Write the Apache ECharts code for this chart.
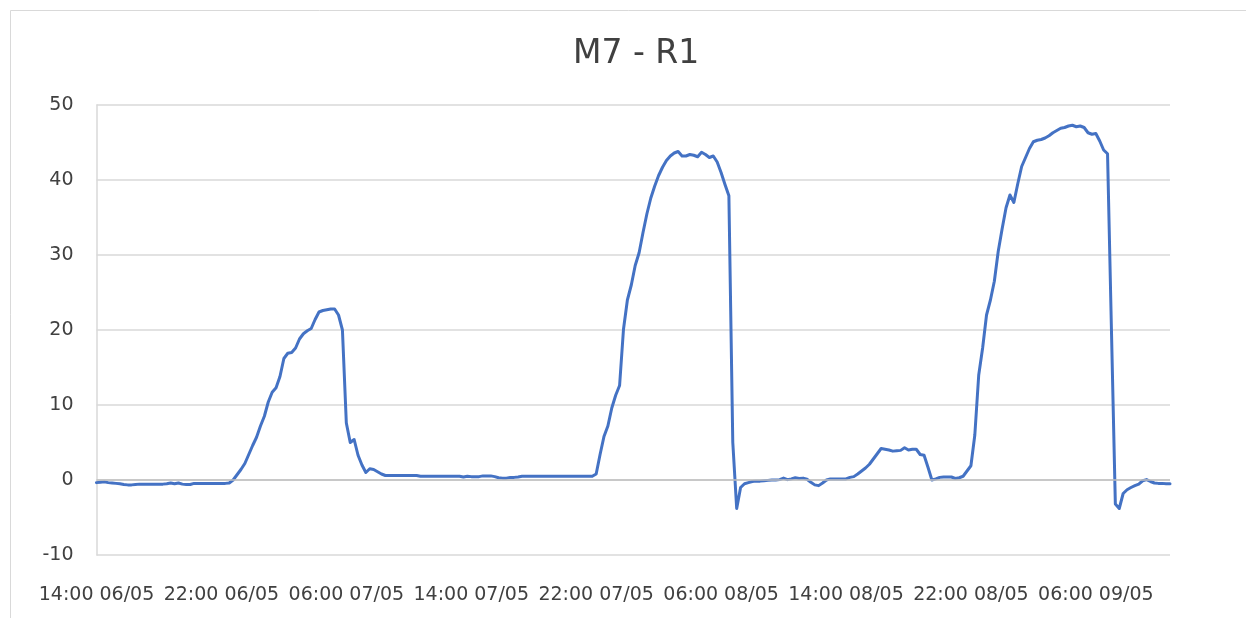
<!DOCTYPE html>
<html>
<head>
<meta charset="utf-8">
<script src="https://cdn.jsdelivr.net/npm/echarts@6/dist/echarts.min.js"></script>
<style>
  html, body { margin: 0; padding: 0; background: #fff; }
  #chart { width: 1246px; height: 618px; }
</style>
</head>
<body>
<div id="chart"></div>
<script>
// readings every 15 minutes, starting 14:00 06/05
const startDay = 6
const startMinutes = 14 * 60
const stepMinutes = 15

const values = [
  -0.35, -0.3, -0.25, -0.35, -0.4, -0.45, -0.5, -0.6, -0.65, -0.65,
  -0.6, -0.55, -0.55, -0.55, -0.55, -0.55, -0.55, -0.55, -0.5, -0.4,
  -0.5, -0.4, -0.55, -0.6, -0.6, -0.45, -0.45, -0.45, -0.45, -0.45,
  -0.45, -0.45, -0.45, -0.45,
  -0.4, 0.0, 0.7, 1.4, 2.2, 3.4, 4.6, 5.7, 7.2, 8.5,
  10.4, 11.7, 12.3, 13.8, 16.2, 16.9, 17.0, 17.6, 18.8, 19.5,
  19.9, 20.2, 21.4, 22.4, 22.6, 22.7, 22.8, 22.8, 22.0, 20.0,
  7.6, 5.0, 5.4, 3.3, 2.0, 1.0, 1.5, 1.4, 1.1, 0.8,
  0.6,
  0.6, 0.6, 0.6, 0.6, 0.6, 0.6, 0.6, 0.6,
  0.5, 0.5, 0.5, 0.5, 0.5, 0.5, 0.5, 0.5, 0.5, 0.5, 0.5,
  0.4, 0.5, 0.45, 0.45, 0.45, 0.55, 0.55, 0.55, 0.45, 0.3, 0.25, 0.25, 0.35, 0.35, 0.4,
  0.5, 0.5, 0.5, 0.5, 0.5, 0.5, 0.5, 0.5, 0.5, 0.5, 0.5, 0.5, 0.5, 0.5, 0.5, 0.5, 0.5, 0.5,
  0.5, 0.8, 3.4, 5.8, 7.2, 9.6, 11.3, 12.6, 20.1, 24.0,
  26.0, 28.6, 30.3, 33.0, 35.5, 37.6, 39.2, 40.6, 41.7, 42.6,
  43.2, 43.6, 43.8, 43.2, 43.2, 43.4, 43.3, 43.1, 43.7, 43.4,
  43.0, 43.2, 42.4, 41.0, 39.4, 37.9, 5.0, -3.8,
  -1.0, -0.5, -0.35, -0.2, -0.15, -0.15, -0.1, -0.05, 0, 0,
  0.05, 0.25, 0.05, 0.15, 0.3, 0.2, 0.25, 0.1, -0.3, -0.65,
  -0.75, -0.4, 0, 0.15, 0.15, 0.15, 0.15, 0.15, 0.35, 0.45,
  0.8, 1.2, 1.6, 2.1, 2.8, 3.5, 4.2, 4.1, 4.0, 3.85,
  3.9, 3.95, 4.3, 4.0, 4.1, 4.1, 3.4, 3.3, 1.7, 0.0,
  0.15, 0.35, 0.4, 0.4, 0.4, 0.2, 0.3, 0.5, 1.2, 1.9,
  6.0, 14.0, 17.6, 22.0, 24.0, 26.5, 30.5, 33.5, 36.3, 38.0,
  37.0, 39.5, 41.8, 43.0, 44.2, 45.1, 45.3, 45.4, 45.6, 45.9,
  46.3, 46.6, 46.9, 47.0, 47.2, 47.3, 47.1, 47.2, 47.0, 46.3,
  46.1, 46.2, 45.2, 44.0, 43.5, 20.0, -3.2, -3.8, -1.8, -1.3,
  -1.0, -0.75, -0.55, -0.1, 0.05, -0.2, -0.4, -0.45, -0.45, -0.5,
  -0.5
]

const pad = n => (n < 10 ? '0' : '') + n
const categories = values.map((v, i) => {
  const t = startMinutes + i * stepMinutes
  const day = startDay + Math.floor(t / 1440)
  const m = t % 1440
  return pad(Math.floor(m / 60)) + ':' + pad(m % 60) + ' ' + pad(day) + '/05'
})

const chart = echarts.init(document.getElementById('chart'))
const font = 'DejaVu Sans'
const textColor = '#404040'

chart.setOption({
  animation: false,
  backgroundColor: '#fff',
  title: {
    text: 'M7 - R1',
    left: 568,
    top: 33,
    textStyle: { fontFamily: font, fontSize: 33, fontWeight: 'normal', color: textColor }
  },
  graphic: [{
    type: 'polyline',
    shape: { points: [[10.5, 640], [10.5, 10.5], [1260, 10.5]] },
    style: { stroke: '#d9d9d9', lineWidth: 1, fill: null },
    silent: true
  }],
  grid: { left: 96.5, right: 76, top: 105, bottom: 63 },
  xAxis: {
    type: 'category',
    boundaryGap: false,
    data: categories,
    axisLine: { show: false, onZero: false },
    axisTick: { show: false },
    splitLine: { show: false },
    axisLabel: {
      interval: 31,
      margin: 31,
      fontFamily: font,
      fontSize: 19,
      color: textColor
    }
  },
  yAxis: {
    type: 'value',
    min: -10,
    max: 50,
    interval: 10,
    axisLine: { show: true, lineStyle: { color: '#d9d9d9', width: 1.5 } },
    axisTick: { show: false },
    splitLine: { lineStyle: { color: '#d9d9d9', width: 1.5 } },
    axisLabel: { margin: 23, fontFamily: font, fontSize: 19, color: textColor }
  },
  series: [{
    type: 'line',
    data: values,
    symbol: 'none',
    lineStyle: { color: '#4472C4', width: 3, join: 'round', cap: 'round' },
    markLine: {
      silent: true,
      symbol: 'none',
      label: { show: false },
      lineStyle: { color: '#bfbfbf', width: 1.5, type: 'solid' },
      data: [{ yAxis: 0 }]
    },
    z: 3
  }]
})
</script>
</body>
</html>
